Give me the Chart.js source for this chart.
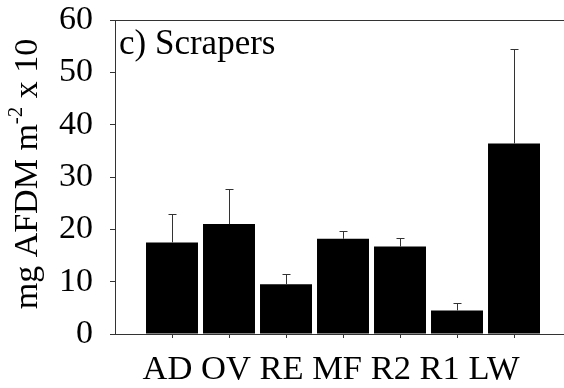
<!DOCTYPE html>
<html>
<head>
<meta charset="utf-8">
<script src="https://cdn.jsdelivr.net/npm/chart.js@4/dist/chart.umd.min.js"></script>
<style>
  html, body { margin: 0; padding: 0; background: #fff; }
</style>
</head>
<body>
<canvas id="myChart" width="564" height="388"></canvas>
<script>
// data (panel c, scrapers)
const sites = ["AD", "OV", "RE", "MF", "R2", "R1", "LW"];
const scraperMeans = [17.5, 21.0, 9.5, 18.2, 16.7, 4.5, 36.4];
const scraperErrors = [5.5, 6.8, 1.9, 1.5, 1.6, 1.5, 18.1];
const yTicks = [0, 10, 20, 30, 40, 50, 60];
const panelTitle = "c) Scrapers";
const yTitleParts = ["mg AFDM m", "-2", " x 10"];

const serif = '"Liberation Serif", "Times New Roman", serif';
const axisColor = "#333";

const errorBars = {
  id: "errorBars",
  afterDatasetsDraw(chart) {
    const x = chart.scales.x, y = chart.scales.y;
    const ctx = chart.ctx;
    ctx.save();
    ctx.strokeStyle = axisColor;
    ctx.lineWidth = 1;
    scraperMeans.forEach((v, i) => {
      const px = Math.round(x.getPixelForValue(i + 1)) + 0.5;
      const top = Math.round(y.getPixelForValue(v + scraperErrors[i])) + 0.5;
      const base = y.getPixelForValue(v);
      ctx.beginPath();
      ctx.moveTo(px, base);
      ctx.lineTo(px, top);
      ctx.moveTo(px - 4, top);
      ctx.lineTo(px + 4, top);
      ctx.stroke();
    });
    ctx.restore();
  }
};

const decorations = {
  id: "decorations",
  afterDraw(chart) {
    const ctx = chart.ctx;
    const a = chart.chartArea;
    ctx.save();
    // top frame line
    ctx.strokeStyle = axisColor;
    ctx.lineWidth = 1;
    ctx.beginPath();
    ctx.moveTo(a.left, Math.round(a.top) + 0.5);
    ctx.lineTo(a.right, Math.round(a.top) + 0.5);
    ctx.stroke();

    ctx.fillStyle = "#000";
    ctx.textBaseline = "alphabetic";

    // panel label
    ctx.font = "35px " + serif;
    ctx.textAlign = "left";
    ctx.fillText(panelTitle, 119, 53.5);

    // category labels, set as one line under the axis like the original
    ctx.font = "34.5px " + serif;
    ctx.textAlign = "center";
    ctx.fillText(sites.join(" "), 331, 379);

    // y title with superscript
    ctx.textAlign = "left";
    ctx.translate(37, 174);
    ctx.rotate(-Math.PI / 2);
    ctx.font = "34px " + serif;
    const w1 = ctx.measureText(yTitleParts[0]).width;
    const w3 = ctx.measureText(yTitleParts[2]).width;
    ctx.font = "21px " + serif;
    const w2 = ctx.measureText(yTitleParts[1]).width;
    let sx = -(w1 + w2 + w3) / 2;
    ctx.font = "34px " + serif;
    ctx.fillText(yTitleParts[0], sx, 0);
    sx += w1;
    ctx.font = "21px " + serif;
    ctx.fillText(yTitleParts[1], sx, -15);
    sx += w2;
    ctx.font = "34px " + serif;
    ctx.fillText(yTitleParts[2], sx, 0);
    ctx.restore();
  }
};

const ctx = document.getElementById("myChart");
const chart = new Chart(ctx, {
  type: "bar",
  data: {
    datasets: [{
      label: "Scrapers",
      data: scraperMeans.map((v, i) => ({ x: i + 1, y: v })),
      backgroundColor: "#000",
      borderWidth: 0,
      barPercentage: 0.912,
      categoryPercentage: 1
    }]
  },
  options: {
    responsive: false,
    animation: false,
    devicePixelRatio: 1,
    layout: { padding: 0 },
    plugins: {
      legend: { display: false },
      tooltip: { enabled: false }
    },
    scales: {
      x: {
        type: "linear",
        min: 0,
        max: 7.877,
        offset: false,
        afterBuildTicks: (scale) => {
          scale.ticks = sites.map((s, i) => ({ value: i + 1 }));
        },
        afterFit: (scale) => {
          scale.height = 54;
          scale.paddingLeft = 0;
          scale.paddingRight = 0;
        },
        ticks: { display: false },
        grid: { drawOnChartArea: false, drawTicks: true, tickLength: 4, color: axisColor, offset: false },
        border: { color: axisColor, width: 1 }
      },
      y: {
        min: 0,
        max: 60,
        afterBuildTicks: (scale) => {
          scale.ticks = yTicks.map((t) => ({ value: t }));
        },
        afterFit: (scale) => {
          scale.width = 115;
          scale.paddingTop = 20;
          scale.paddingBottom = 0;
        },
        ticks: {
          font: { family: serif, size: 34 },
          color: "#000",
          padding: 17
        },
        grid: { drawOnChartArea: false, tickLength: 5, color: axisColor },
        border: { color: axisColor, width: 1 }
      }
    }
  },
  plugins: [errorBars, decorations]
});
</script>
</body>
</html>
